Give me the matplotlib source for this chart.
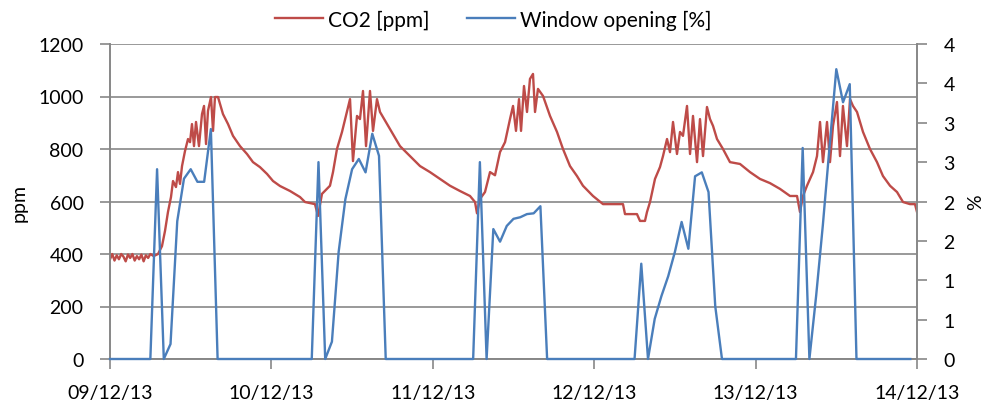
import numpy as np
import matplotlib.pyplot as plt
from matplotlib.ticker import FuncFormatter, MultipleLocator

plt.rcParams['font.family'] = ['Lato', 'DejaVu Sans']

# CO2 readings: time in hours since 09/12/13 00:00, value in ppm
co2_hours = [0.0, 0.33, 0.67, 1.0, 1.33, 1.67, 2.0, 2.33, 2.67, 3.0, 3.33, 3.67, 4.0, 4.33,
             4.67, 5.0, 5.33, 5.67, 6.0, 6.5,
             7.14, 7.73, 8.18, 8.62, 9.07, 9.37, 9.81, 10.11, 10.41, 10.71, 11.15, 11.6, 11.9,
             12.19, 12.49, 12.79, 13.23, 13.68, 13.98, 14.28, 14.57, 15.02, 15.32, 15.61, 16.06,
             16.8, 17.55, 18.29, 19.33, 20.37, 21.26, 22.3, 23.35, 24.24, 25.28, 26.77, 28.25,
             29.0, 30.48, 30.93, 31.52, 32.71, 33.16, 33.75, 34.5, 35.69, 36.13, 36.73, 37.17,
             37.62, 38.07, 38.66, 39.11, 39.7, 40.15, 41.64, 43.12, 44.61, 46.1, 47.58, 49.07,
             50.56, 52.04, 53.53, 54.28, 54.57, 55.02, 55.76, 56.51, 57.25, 57.99, 58.74, 59.48,
             59.93, 60.37, 60.82, 61.12, 61.56, 62.01, 62.45, 62.9, 63.2, 63.64, 64.39, 65.43,
             66.47, 67.36, 68.4, 69.44, 70.33, 71.82, 73.31, 76.28, 76.58, 78.36, 78.81, 79.55,
             79.85, 80.3, 81.04, 81.78, 82.23, 82.83, 83.27, 83.72, 84.31, 84.76, 85.2, 85.8,
             86.25, 86.69, 87.29, 87.73, 88.18, 88.77, 89.22, 89.67, 90.26, 91.15, 92.19, 93.68,
             95.17, 96.65, 98.14, 99.63, 101.12, 102.16, 102.6, 103.05, 103.64, 104.54, 105.13,
             105.58, 106.02, 106.62, 107.06, 107.51, 108.1, 108.55, 108.99, 109.59, 110.04,
             110.48, 111.08, 111.97, 113.01, 114.05, 114.94, 115.99, 117.03, 117.92, 118.96,
             119.7, 120.0]
co2_ppm = [380, 400, 375, 395, 380, 400, 390, 372, 398, 385, 400, 375, 392, 380,
           398, 372, 395, 385, 400, 392,
           400, 430, 488, 560, 617, 678, 655, 712, 667, 735, 792, 838, 826,
           895, 811, 903, 811, 933, 964, 819, 945, 998, 869, 998, 998,
           933, 895, 850, 811, 781, 750, 731, 705, 678, 659, 640, 617,
           598, 590, 545, 629, 660, 712, 800, 865, 990, 754, 926, 914,
           1021, 811, 1021, 869, 990, 941, 876, 811, 773, 735, 712, 686,
           660, 640, 621, 598, 555, 610, 636, 712, 700, 788, 826, 914,
           964, 869, 990, 869, 1040, 941, 1067, 1086, 941, 1029, 1002, 926,
           865, 800, 735, 697, 660, 621, 590, 590, 552, 552, 526, 526,
           560, 598, 686, 731, 773, 838, 788, 903, 781, 865, 850, 964,
           781, 926, 750, 914, 773, 960, 914, 888, 838, 800, 750, 743,
           712, 686, 670, 648, 621, 621, 560, 621, 660, 712, 773,
           903, 750, 903, 750, 888, 979, 773, 964, 811, 990,
           964, 941, 865, 800, 750, 697, 660, 636, 598, 590,
           590, 560]

# window opening, hourly values (hour 0 .. 119)
window_open = [0, 0, 0, 0, 0, 0, 0, 2.41, 0, 0.19, 1.75, 2.29, 2.41, 2.25, 2.25, 2.92,
               0, 0, 0, 0, 0, 0, 0, 0, 0, 0, 0, 0, 0, 0, 0,
               2.5, 0, 0.22, 1.36, 2.03, 2.41, 2.54, 2.37, 2.86, 2.58,
               0, 0, 0, 0, 0, 0, 0, 0, 0, 0, 0, 0, 0, 0,
               2.5, 0, 1.65, 1.49, 1.69, 1.78, 1.80, 1.84, 1.85, 1.94,
               0, 0, 0, 0, 0, 0, 0, 0, 0, 0, 0, 0, 0, 0,
               1.21, 0, 0.51, 0.80, 1.05, 1.36, 1.74, 1.40, 2.32, 2.37, 2.12, 0.67,
               0, 0, 0, 0, 0, 0, 0, 0, 0, 0, 0, 0,
               2.68, 0, 0.8, 1.7, 2.7, 3.68, 3.26, 3.49,
               0, 0, 0, 0, 0, 0, 0, 0, 0]
window_hours = np.arange(len(window_open))

day_labels = ['09/12/13', '10/12/13', '11/12/13', '12/12/13', '13/12/13', '14/12/13']

grid_col = '#878787'
fig = plt.figure(figsize=(9.87, 4.06), dpi=100)
ax = fig.add_axes([110/987, 1 - 360/406, (917 - 110)/987, (360 - 45)/406])
ax2 = ax.twinx()

l1, = ax.plot(co2_hours, co2_ppm, color='#BE4B48', lw=1.7, label='CO2 [ppm]')
l2, = ax2.plot(window_hours, window_open, color='#4A7EBB', lw=1.7, label='Window opening [%]',
               zorder=3, clip_on=False)

ax.set_xlim(0, 120)
ax.set_ylim(0, 1200)
ax2.set_ylim(0, 4)
ax.set_yticks(np.arange(0, 1201, 200))
ax.set_xticks(np.arange(0, 121, 24))
ax.set_xticklabels(day_labels)
ax2.yaxis.set_major_locator(MultipleLocator(0.5))
ax2.yaxis.set_major_formatter(FuncFormatter(lambda v, p: str(int(np.floor(v + 0.5)))))

ax.grid(axis='y', color=grid_col, lw=1.2)
ax.set_axisbelow(True)
for a in (ax, ax2):
    for s in ['left', 'right', 'bottom']:
        a.spines[s].set_color(grid_col)
        a.spines[s].set_linewidth(1.2)
    a.spines['top'].set_visible(False)
    a.tick_params(colors=grid_col, labelcolor='black', labelsize=14, length=7, width=1.2)
ax.tick_params(axis='x', pad=11)
ax.tick_params(axis='y', pad=12)
ax2.tick_params(axis='y', pad=12)

ax.set_ylabel('ppm', fontsize=14, labelpad=8)
ax2.set_ylabel('%', fontsize=14, labelpad=9)

fig.legend(handles=[l1, l2], loc='upper center', bbox_to_anchor=(0.5, 1.02), ncol=2,
           frameon=False, fontsize=15, handlelength=2.3, handletextpad=0.25, columnspacing=1.8)

fig.savefig('out.png', dpi=100)
